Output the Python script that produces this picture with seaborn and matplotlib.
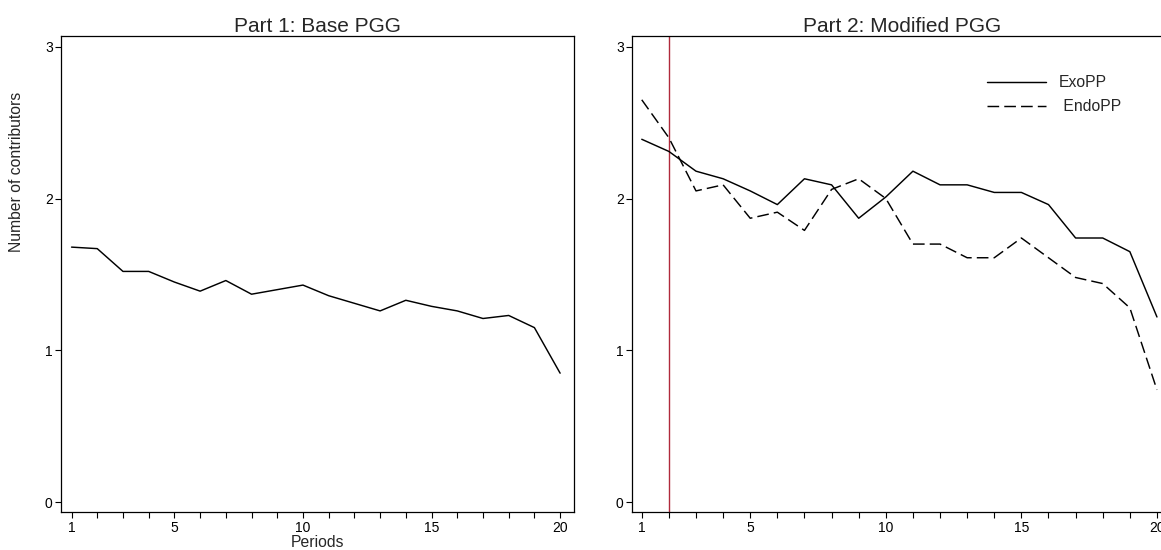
import matplotlib
matplotlib.use("Agg")
import matplotlib.pyplot as plt
import seaborn as sns
import pandas as pd

periods = list(range(1, 21))
base_pgg = [1.68, 1.67, 1.52, 1.52, 1.45, 1.39, 1.46, 1.37, 1.40, 1.43,
            1.36, 1.31, 1.26, 1.33, 1.29, 1.26, 1.21, 1.23, 1.15, 0.85]
exo_pp = [2.39, 2.31, 2.18, 2.13, 2.05, 1.96, 2.13, 2.09, 1.87, 2.01,
          2.18, 2.09, 2.09, 2.04, 2.04, 1.96, 1.74, 1.74, 1.65, 1.22]
endo_pp = [2.65, 2.40, 2.05, 2.09, 1.87, 1.91, 1.79, 2.06, 2.13, 2.00,
           1.70, 1.70, 1.61, 1.61, 1.74, 1.61, 1.48, 1.44, 1.28, 0.74]
xtick_labels = {1: "1", 5: "5", 10: "10", 15: "15", 20: "20"}
yticks = [0, 1, 2, 3]
vline_period = 2

sns.set_style("ticks")
plt.rcParams["font.family"] = ["Liberation Sans", "DejaVu Sans"]

W, H = 1161, 550
fig = plt.figure(figsize=(W / 100, H / 100), dpi=100)
fig.patch.set_facecolor("white")

def px_axes(x0, x1, ytop, ybot):
    return fig.add_axes([x0 / W, (H - ybot) / H, (x1 - x0) / W, (ybot - ytop) / H])

ax1 = px_axes(61, 574, 36, 512.3)
ax2 = px_axes(632, 1171.6, 36, 512.3)

df1 = pd.DataFrame({"period": periods, "value": base_pgg})
df2 = pd.DataFrame({"period": periods, "exo": exo_pp, "endo": endo_pp})

sns.lineplot(data=df1, x="period", y="value", ax=ax1, color="black", lw=1.05)
sns.lineplot(data=df2, x="period", y="exo", ax=ax2, color="black", lw=1.05,
             label="ExoPP")
sns.lineplot(data=df2, x="period", y="endo", ax=ax2, color="black", lw=1.05,
             linestyle=(0, (8, 3.5)), label=" EndoPP")
ax2.axvline(vline_period, color="#b02a3c", lw=1.0, zorder=1)

for ax in (ax1, ax2):
    ax.set_ylim(-0.066, 3.07)
    ax.set_yticks(yticks)
    ax.set_yticklabels([str(v) for v in yticks])
    ax.set_xticks(periods)
    ax.set_xticklabels([xtick_labels.get(p, "") for p in periods])
    ax.tick_params(axis="both", direction="out", length=4.5, width=0.8,
                   color="black", labelsize=10, pad=1.5, labelcolor="black")
    for s in ax.spines.values():
        s.set_visible(True)
        s.set_color("black")
        s.set_linewidth(0.9)
    ax.set_facecolor("white")
    ax.grid(False)

ax1.set_xlim(0.59, 20.54)
ax2.set_xlim(0.64, 20.54)

ax1.set_title("Part 1: Base PGG", fontsize=15, pad=3)
ax2.set_title("Part 2: Modified PGG", fontsize=15, pad=3)
ax1.set_xlabel("Periods", fontsize=11.3, labelpad=0)
ax1.set_ylabel("Number of contributors", fontsize=11.3)
ax1.yaxis.set_label_coords(-0.073, 0.714)
ax2.set_xlabel("")
ax2.set_ylabel("")

ax2.legend(loc="upper left", bbox_to_anchor=(0.658, 0.918), frameon=False,
           fontsize=11.3, handlelength=3.76, handletextpad=0.83,
           labelspacing=0.57, borderpad=0, borderaxespad=0)

fig.savefig("out.png", dpi=100)
